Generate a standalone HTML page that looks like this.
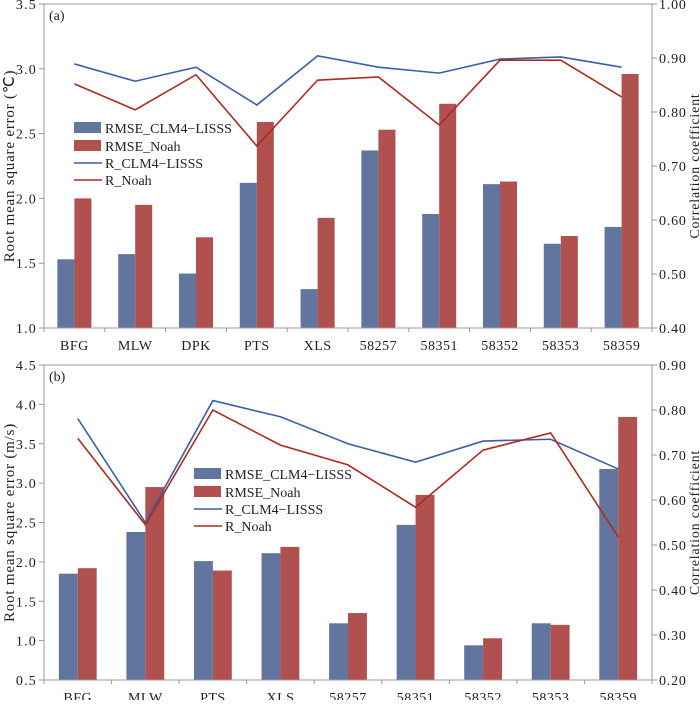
<!DOCTYPE html>
<html><head><meta charset="utf-8"><style>
body{margin:0;background:#fff}
svg text{font-family:"Liberation Serif",serif;fill:#222}
</style></head><body>
<svg id="c" width="700" height="700" xmlns="http://www.w3.org/2000/svg"></svg>
<script>
const catsA=["BFG","MLW","DPK","PTS","XLS","58257","58351","58352","58353","58359"];
const rmseClmA=[1.53,1.57,1.42,2.12,1.30,2.37,1.88,2.11,1.65,1.78];
const rmseNoahA=[2.00,1.95,1.70,2.59,1.85,2.53,2.73,2.13,1.71,2.96];
const rClmA=[0.889,0.857,0.883,0.813,0.904,0.883,0.872,0.898,0.902,0.883];
const rNoahA=[0.852,0.804,0.869,0.737,0.859,0.865,0.776,0.896,0.896,0.828];
const leftTicksA=["1.0","1.5","2.0","2.5","3.0","3.5"];
const rightTicksA=["0.40","0.50","0.60","0.70","0.80","0.90","1.00"];

const catsB=["BFG","MLW","PTS","XLS","58257","58351","58352","58353","58359"];
const rmseClmB=[1.85,2.38,2.01,2.11,1.22,2.47,0.94,1.22,3.18];
const rmseNoahB=[1.92,2.95,1.89,2.19,1.35,2.85,1.03,1.20,3.84];
const rClmB=[0.781,0.550,0.821,0.785,0.725,0.684,0.731,0.735,0.669];
const rNoahB=[0.737,0.545,0.800,0.722,0.678,0.584,0.711,0.749,0.518];
const leftTicksB=["0.5","1.0","1.5","2.0","2.5","3.0","3.5","4.0","4.5"];
const rightTicksB=["0.20","0.30","0.40","0.50","0.60","0.70","0.80","0.90"];

const svg=document.getElementById('c');
const NS="http://www.w3.org/2000/svg";
function mk(tag,attrs,name,parent){const e=document.createElementNS(NS,tag);for(const k in attrs)e.setAttribute(k,attrs[k]);


(parent||svg).appendChild(e);return e;}
function txt(x,y,s,name,extra){const t=mk('text',Object.assign({x:x,y:y,'font-size':14},extra||{}),name);t.textContent=s;return t;}

function panel(o){
  const {x0,x1,yTop,yBot,lmin,lmax,rmin,rmax,cats,b1,b2,l1,l2,lt,rt,tag,ytitle,leg}=o;
  const g=mk('g',{},'panel-'+tag);
  const yL=v=>yBot-(v-lmin)/(lmax-lmin)*(yBot-yTop);
  const yR=v=>yBot-(v-rmin)/(rmax-rmin)*(yBot-yTop);
  const cw=(x1-x0)/cats.length;
  const cx=i=>x0+cw*(i+0.5);
  const bw=cw*0.28;
  mk('line',{x1:x0,y1:yTop,x2:x1,y2:yTop,stroke:'#999','stroke-width':1},'plot-top-border',g);
  mk('line',{x1:x0,y1:yTop,x2:x0,y2:yBot,stroke:'#999','stroke-width':1},'left-axis',g);
  mk('line',{x1:x1,y1:yTop,x2:x1,y2:yBot,stroke:'#999','stroke-width':1},'right-axis',g);
  cats.forEach((c,i)=>{
    mk('rect',{x:cx(i)-bw,y:yL(b1[i]),width:bw,height:yBot-yL(b1[i]),fill:'#62759e'},'bar-clm-'+c,g);
    mk('rect',{x:cx(i),y:yL(b2[i]),width:bw,height:yBot-yL(b2[i]),fill:'#b05150'},'bar-noah-'+c,g);
  });
  mk('line',{x1:x0,y1:yBot,x2:x1,y2:yBot,stroke:'#999','stroke-width':1},'x-axis',g);
  mk('polyline',{points:l1.map((v,i)=>cx(i)+','+yR(v)).join(' '),fill:'none',stroke:'#3a5ea8','stroke-width':1.6},'line-r-clm',g);
  mk('polyline',{points:l2.map((v,i)=>cx(i)+','+yR(v)).join(' '),fill:'none',stroke:'#b02a20','stroke-width':1.6},'line-r-noah',g);
  for(let i=0;i<=cats.length;i++){const x=x0+cw*i;mk('line',{x1:x,y1:yBot,x2:x,y2:yBot+4,stroke:'#999'},'x-tick',g);}
  cats.forEach((c,i)=>txt(cx(i),yBot+22,c,'x-label-'+c,{'text-anchor':'middle','letter-spacing':0.5}));
  lt.forEach(s=>{const y=yL(parseFloat(s));mk('line',{x1:x0-5,y1:y,x2:x0,y2:y,stroke:'#999'},'left-tick',g);txt(x0-7,y+5,s,'left-tick-label',{'text-anchor':'end','letter-spacing':1.2});});
  rt.forEach(s=>{const y=yR(parseFloat(s));mk('line',{x1:x1,y1:y,x2:x1+5,y2:y,stroke:'#999'},'right-tick',g);txt(x1+7,y+5,s,'right-tick-label',{'letter-spacing':0.8});});
  txt(x0+5,yTop+16,'('+tag+')','panel-label-'+tag);
  const my=(yTop+yBot)/2;
  txt(14,my,ytitle,'left-axis-title',{'text-anchor':'middle','font-size':15,'letter-spacing':0.8,transform:'rotate(-90 14 '+my+')'});
  txt(699,my,'Correlation coefficient','right-axis-title',{'text-anchor':'middle','font-size':14,'letter-spacing':0.8,transform:'rotate(-90 699 '+my+')'});
  const [lx,ly,dy]=leg;
  mk('rect',{x:lx,y:ly-6,width:27,height:11,fill:'#62759e'},'legend-swatch-rmse-clm',g);
  txt(lx+31,ly+5,'RMSE_CLM4\u2212LISSS','legend-rmse-clm');
  mk('rect',{x:lx,y:ly+dy-6,width:27,height:11,fill:'#b05150'},'legend-swatch-rmse-noah',g);
  txt(lx+31,ly+dy+5,'RMSE_Noah','legend-rmse-noah');
  mk('line',{x1:lx,y1:ly+2*dy-1,x2:lx+28,y2:ly+2*dy-1,stroke:'#3a5ea8','stroke-width':1.6},'legend-line-r-clm',g);
  txt(lx+31,ly+2*dy+4,'R_CLM4\u2212LISSS','legend-r-clm');
  mk('line',{x1:lx,y1:ly+3*dy-2,x2:lx+28,y2:ly+3*dy-2,stroke:'#b02a20','stroke-width':1.6},'legend-line-r-noah',g);
  txt(lx+31,ly+3*dy+3,'R_Noah','legend-r-noah');
}
panel({x0:44,x1:652,yTop:4,yBot:328,lmin:1,lmax:3.5,rmin:0.4,rmax:1.0,cats:catsA,b1:rmseClmA,b2:rmseNoahA,l1:rClmA,l2:rNoahA,lt:leftTicksA,rt:rightTicksA,tag:'a',ytitle:'Root mean square error (\u2103)',leg:[74,128,18]});
panel({x0:44,x1:652,yTop:365,yBot:680,lmin:0.5,lmax:4.5,rmin:0.2,rmax:0.9,cats:catsB,b1:rmseClmB,b2:rmseNoahB,l1:rClmB,l2:rNoahB,lt:leftTicksB,rt:rightTicksB,tag:'b',ytitle:'Root mean square error (m/s)',leg:[194,474,18]});
</script>
</body></html>
